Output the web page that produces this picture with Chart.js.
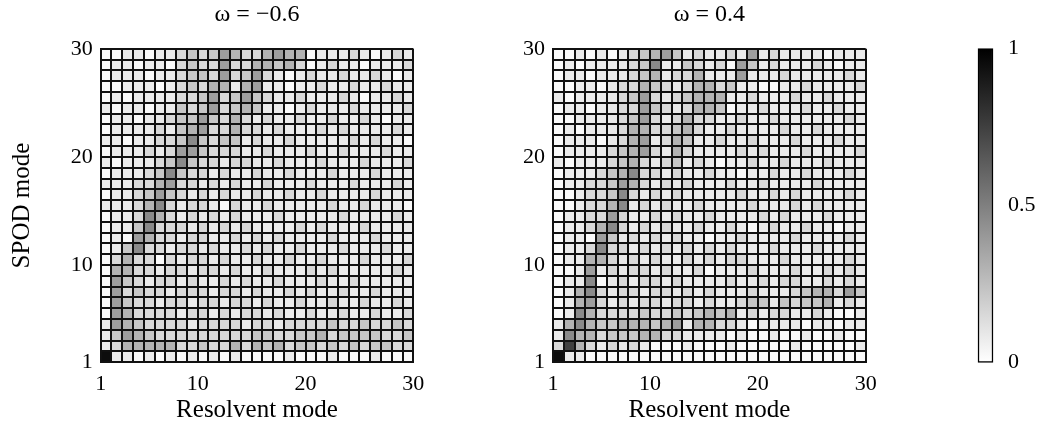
<!DOCTYPE html>
<html>
<head>
<meta charset="utf-8">
<script src="https://cdn.jsdelivr.net/npm/chart.js@4.4.0/dist/chart.umd.min.js"></script>
<style>
  body { margin: 0; background: #fff; width: 1049px; height: 433px; overflow: hidden; position: relative; }
  canvas { position: absolute; top: 0; }
</style>
</head>
<body>
<canvas id="left" width="440" height="433" style="left:0"></canvas>
<canvas id="right" width="440" height="433" style="left:460px"></canvas>
<canvas id="cbar" width="119" height="433" style="left:930px"></canvas>
<script>
// cell edges (pcolor style: 30 nodes -> 29 cells)
const edges = [1,2,3,4,5,6,7,8,9,10,11,12,13,14,15,16,17,18,19,20,21,22,23,24,25,26,27,28,29,30];
const cells = edges.slice(0, 29);
const axisTicks = [1, 10, 20, 30];
const cbTicks = [0, 0.5, 1];

// shade level (digit) -> value in [0,1]
const shade = [0.02, 0.08, 0.15, 0.22, 0.3, 0.38, 0.46, 0.55, 0.75, 0.95];

// omega = -0.6, rows from SPOD mode 29 (top) down to 1, columns resolvent mode 1..29
const leftRows = [
  "00110112323542245440111210121",
  "01101102322522443420121101112",
  "01110112332523521012112112101",
  "00111012324414511011211211211",
  "01011112235235321121112101121",
  "10110113235234311012111211112",
  "01101123353242121121121121011",
  "01111213452242212111212111121",
  "11011223632331211211111212110",
  "01112125532221121112112111211",
  "10111236322122112111211121112",
  "01112363221211211211121112111",
  "11122452212121121112111211121",
  "01123532121211211211211112111",
  "11124621221021121111121121110",
  "01126421212121112111112111121",
  "01136222121212111121211121111",
  "01054221221121212111121112111",
  "01362212212112121121112111211",
  "02422021221211211211211121112",
  "04422122122121121112121111121",
  "05321221211212112111211211111",
  "05232212221221211212112112111",
  "05322122122122121121121121121",
  "05422221221212212112112112112",
  "15432222122221221222232232232",
  "13543222222222332233423333223",
  "12444442232242434233232323322",
  "91101010101010000100010001000"
];

// omega = 0.4
const rightRows = [
  "00101012345312112151211110111",
  "01011112361132120531211121011",
  "01101112341224111511121111121",
  "00110122432124423110011211112",
  "10111123521234441121112112111",
  "01101122532124430112111211211",
  "00111123521242211211211111121",
  "01011124422342112111121121111",
  "01110124512431121121112111211",
  "01111234521421111212111211112",
  "10111234212312101121121112111",
  "01112346221211211011211211121",
  "01122354212121112112111121111",
  "00122362121211111211212111121",
  "00122461212112111121112121111",
  "01122521121211211112121112111",
  "01124621212112112101211211011",
  "01105312121211011211112111121",
  "01126221212121212111211121111",
  "01144212121121212211121111121",
  "00151212212112011121112112121",
  "01160121221211112112122112121",
  "01462122122121211121112344253",
  "01452121221221211233132334121",
  "01642222322323434121221121001",
  "14643344434514422101111011011",
  "16442333442211110100100100100",
  "28421212100010001000001000001",
  "91100000000000000000000000000"
];

Chart.defaults.font.family = "'Liberation Serif', 'DejaVu Serif', serif";
Chart.defaults.font.size = 22;
Chart.defaults.color = '#000';

function grey(v) {
  const g = Math.round(255 * (1 - v));
  return 'rgb(' + g + ',' + g + ',' + g + ')';
}

function setTicks(list) {
  return function (scale) { scale.ticks = list.map(v => ({ value: v })); };
}

function makePanel(id, rows, title, yTitle, yWidth, padRight) {
  const datasets = rows.map((row, k) => {
    const r = 29 - k;
    return {
      data: cells.map(c => ({ x: c + 0.5, y: [r, r + 1] })),
      backgroundColor: cells.map(c => grey(shade[+row[c - 1]])),
      borderWidth: 0,
      barPercentage: 1,
      categoryPercentage: 1,
      grouped: false
    };
  });

  return new Chart(document.getElementById(id), {
    type: 'bar',
    data: { datasets: datasets },
    options: {
      responsive: false,
      animation: false,
      events: [],
      layout: { padding: { left: 0, right: padRight, top: 0, bottom: 0 } },
      plugins: {
        legend: { display: false },
        tooltip: { enabled: false },
        title: {
          display: true,
          fullSize: false,
          text: title,
          color: '#000',
          font: { size: 24, weight: 'normal' },
          padding: { top: 0, bottom: 20 }
        }
      },
      scales: {
        x: {
          type: 'linear',
          min: 1, max: 30,
          offset: false,
          afterBuildTicks: setTicks(edges),
          afterFit: s => { s.height = 70.7; },
          grid: { offset: false, color: '#111', lineWidth: 2, drawTicks: false, z: 1 },
          border: { color: '#111', width: 2, z: 1 },
          ticks: {
            autoSkip: false, maxRotation: 0, padding: 9,
            callback: v => axisTicks.includes(v) ? String(v) : ''
          },
          title: { display: true, text: 'Resolvent mode', font: { size: 25 }, padding: { top: 0, bottom: 8 } }
        },
        y: {
          type: 'linear',
          min: 1, max: 30,
          afterBuildTicks: setTicks(edges),
          afterFit: s => { s.width = yWidth; },
          grid: { color: '#111', lineWidth: 2, drawTicks: false, z: 1 },
          border: { color: '#111', width: 2, z: 1 },
          ticks: {
            autoSkip: false, padding: 8,
            callback: v => axisTicks.includes(v) ? String(v) : ''
          },
          title: { display: yTitle, text: 'SPOD mode', font: { size: 25 }, padding: { top: 7, bottom: 0 } }
        }
      }
    }
  });
}

makePanel('left', leftRows, 'ω = −0.6', true, 100.7, 26.7);
makePanel('right', rightRows, 'ω = 0.4', false, 93, 34.3);

// colour bar
new Chart(document.getElementById('cbar'), {
  type: 'bar',
  data: {
    labels: ['scale'],
    datasets: [{
      data: [[0, 1]],
      backgroundColor: ctx => {
        const a = ctx.chart.chartArea;
        if (!a) return '#888';
        const g = ctx.chart.ctx.createLinearGradient(0, a.bottom, 0, a.top);
        g.addColorStop(0, '#ffffff');
        g.addColorStop(1, '#000000');
        return g;
      },
      borderColor: '#000',
      borderWidth: 1.5,
      borderSkipped: false,
      barPercentage: 1,
      categoryPercentage: 1,
      clip: false
    }]
  },
  options: {
    responsive: false,
    animation: false,
    events: [],
    layout: { padding: { left: 48, right: 0, top: 48.7, bottom: 70.7 } },
    plugins: { legend: { display: false }, tooltip: { enabled: false } },
    scales: {
      x: { display: false },
      y: {
        position: 'right',
        min: 0, max: 1,
        afterBuildTicks: setTicks(cbTicks),
        afterFit: s => { s.width = 56; },
        grid: { display: false },
        border: { display: false },
        ticks: { padding: 7, callback: v => String(v) }
      }
    }
  }
});
</script>
</body>
</html>
